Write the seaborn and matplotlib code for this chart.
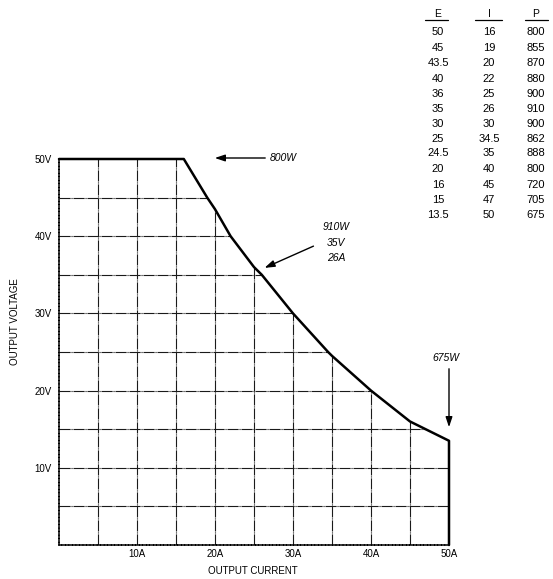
import numpy as np
import pandas as pd
import matplotlib
matplotlib.use("Agg")
import matplotlib.pyplot as plt
from matplotlib.patches import Polygon
from matplotlib.lines import Line2D
import seaborn as sns

volts = [50, 50, 45, 43.5, 40, 36, 35, 30, 25, 24.5, 20, 16, 15, 13.5]
amps = [0, 16, 19, 20, 22, 25, 26, 30, 34.5, 35, 40, 45, 47, 50]
table_E = ["50", "45", "43.5", "40", "36", "35", "30", "25", "24.5", "20", "16", "15", "13.5"]
table_I = ["16", "19", "20", "22", "25", "26", "30", "34.5", "35", "40", "45", "47", "50"]
table_P = ["800", "855", "870", "880", "900", "910", "900", "862", "888", "800", "720", "705", "675"]
x_ticks = [10, 20, 30, 40, 50]
x_labels = ["10A", "20A", "30A", "40A", "50A"]
y_ticks = [10, 20, 30, 40, 50]
y_labels = ["10V", "20V", "30V", "40V", "50V"]
grid_steps = [5, 10, 15, 20, 25, 30, 35, 40, 45]

sns.set_style("white")
plt.rcParams["font.family"] = ["Liberation Sans", "DejaVu Sans"]
plt.rcParams["text.color"] = "black"
plt.rcParams["xtick.color"] = "black"
plt.rcParams["ytick.color"] = "black"
plt.rcParams["axes.labelcolor"] = "black"

W, H = 553, 579
fig = plt.figure(figsize=(W / 100, H / 100), dpi=100)
ax = fig.add_axes([59 / W, 1 - 545 / H, 390 / W, 386 / H])
ax.set_xlim(0, 50)
ax.set_ylim(0, 50)

# full curve including the drop at 50 A
curve_x = amps + [amps[-1]]
curve_y = volts + [0]
df = pd.DataFrame({"I": curve_x, "E": curve_y})

# clip region below the curve for the grid
clip = Polygon(list(zip(curve_x, curve_y)) + [(0, 0)], closed=True,
               transform=ax.transData, facecolor="none", edgecolor="none")
ax.add_patch(clip)

for g in grid_steps:
    l1 = ax.axvline(g, color="#1a1a1a", lw=0.8, ls=(0, (10, 0.8, 1, 0.8)))
    l1.set_clip_path(clip)
    l2 = ax.axhline(g, color="#1a1a1a", lw=0.8, ls=(0, (10, 0.8, 1, 0.8)))
    l2.set_clip_path(clip)

sns.lineplot(data=df, x="I", y="E", sort=False, color="black", lw=1.8,
             ax=ax, clip_on=False, estimator=None,
             solid_joinstyle="round", solid_capstyle="round")

for s in ["top", "right"]:
    ax.spines[s].set_visible(False)
for s in ["left", "bottom"]:
    ax.spines[s].set_linestyle((0, (1.5, 0.8)))
    ax.spines[s].set_linewidth(1.1)
    ax.spines[s].set_color("black")

ax.set_xticks(x_ticks)
ax.set_xticklabels(x_labels, fontsize=7)
ax.set_yticks(y_ticks)
ax.set_yticklabels(y_labels, fontsize=7)
ax.tick_params(length=0, pad=3, colors="black")
ax.tick_params(axis="y", pad=5)
ax.set_xlabel("")
ax.set_ylabel("")
fig.text(253 / W, 1 - 571 / H, "OUTPUT CURRENT", ha="center", va="center", fontsize=7)
fig.text(15 / W, 1 - 322 / H, "OUTPUT VOLTAGE", ha="center", va="center",
         fontsize=7, rotation=90)


def px(xp, yp):
    return ((xp - 59) / 7.8, (545 - yp) / 7.72)


arrow = dict(arrowstyle="-|>,head_length=0.6,head_width=0.2", color="black",
             lw=1.0, mutation_scale=10)
ax.annotate("", xy=px(212, 158), xytext=px(268, 158), arrowprops=arrow,
            annotation_clip=False)
ax.text(*px(270, 158), "800W", ha="left", va="center", fontsize=7.5,
        style="italic", clip_on=False)

ax.annotate("", xy=px(262, 269), xytext=px(316, 245), arrowprops=arrow,
            annotation_clip=False)
for txt, yy in [("910W", 227), ("35V", 243), ("26A", 258)]:
    ax.text(*px(336, yy), txt, ha="center", va="center", fontsize=7.5,
            style="italic", clip_on=False)

ax.annotate("", xy=px(449, 430), xytext=px(449, 366), arrowprops=arrow,
            annotation_clip=False)
ax.text(*px(446, 358), "675W", ha="center", va="center", fontsize=7.5,
        style="italic", clip_on=False)

# table
cols = [(438, "E", table_E, 425, 448), (489, "I", table_I, 475, 502),
        (536, "P", table_P, 525, 548)]
row_y = [32, 48, 63, 79, 94, 109, 124, 139, 153, 169, 185, 200, 215]
for cx, head, vals, u0, u1 in cols:
    fig.text(cx / W, 1 - 14 / H, head, ha="center", va="center", fontsize=7.5)
    fig.add_artist(Line2D([u0 / W, u1 / W], [1 - 20 / H, 1 - 20 / H],
                          color="black", lw=0.9))
    for v, ry in zip(vals, row_y):
        fig.text(cx / W, 1 - ry / H, v, ha="center", va="center", fontsize=8)

fig.savefig("out.png", dpi=100)
